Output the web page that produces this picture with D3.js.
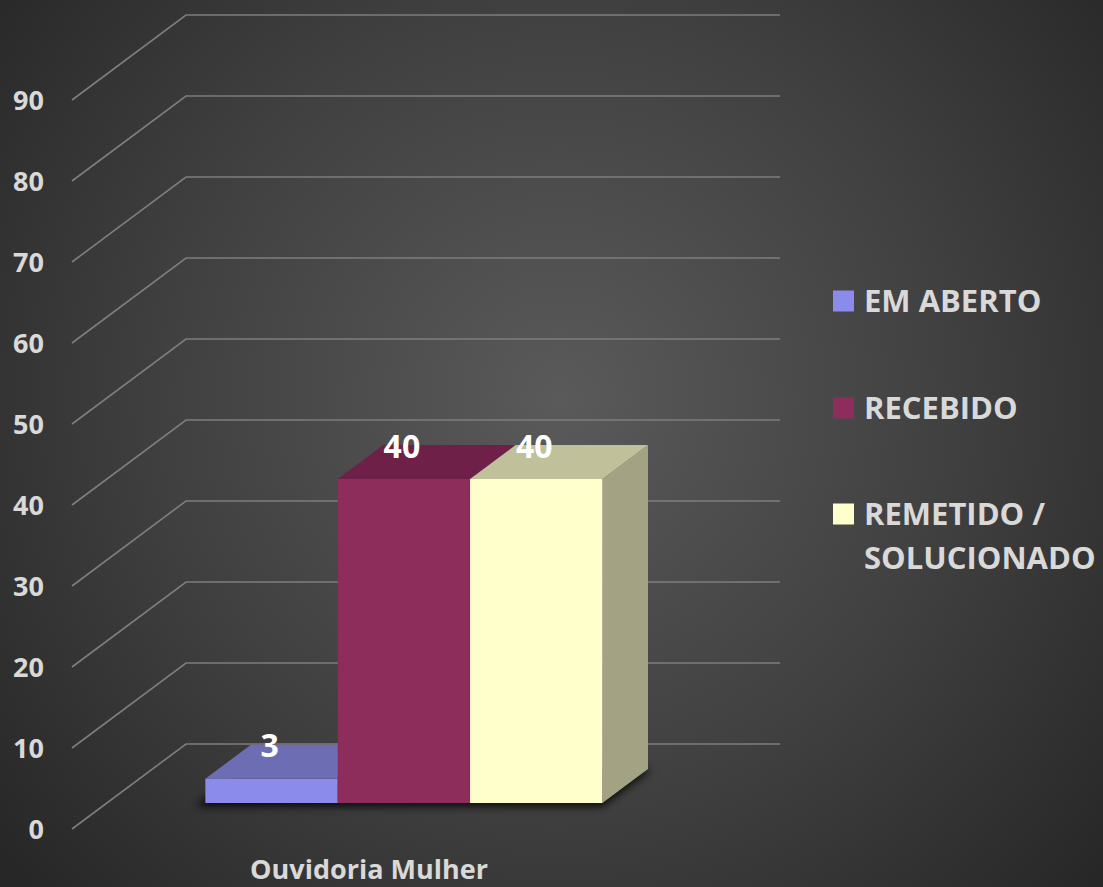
<!DOCTYPE html>
<html>
<head>
  <meta charset="utf-8">
  <title>Ouvidoria Mulher</title>
  <style>
    html, body { margin: 0; padding: 0; background: #333; }
    svg { display: block; }
    text { font-family: "Open Sans", sans-serif; font-weight: bold; }
  </style>
  <script src="https://d3js.org/d3.v7.min.js"></script>
</head>
<body>
  <div id="chart"></div>
  <script>
    // dados
    var categories = ["Ouvidoria Mulher"];
    var series = ["EM ABERTO", "RECEBIDO", "REMETIDO / SOLUCIONADO"];
    var values = [3, 40, 40];
    var yTicks = [0, 10, 20, 30, 40, 50, 60, 70, 80, 90];
    var colors = ["#8b8bec", "#8d2d5c", "#ffffcc"];
    var topColors = ["#6d6db3", "#6e2048", "#c0c09b"];
    var sideColors = ["#5b5b96", "#581a3a", "#a3a383"];

    var W = 1103, H = 887;
    var svg = d3.select("#chart").append("svg")
        .attr("width", W)
        .attr("height", H);

    var defs = svg.append("defs");
    var grad = defs.append("radialGradient")
        .attr("id", "bg")
        .attr("gradientUnits", "userSpaceOnUse")
        .attr("cx", 560).attr("cy", 400).attr("r", 720);
    grad.append("stop").attr("offset", "0").attr("stop-color", "#5a5a5a");
    grad.append("stop").attr("offset", "0.55").attr("stop-color", "#404040");
    grad.append("stop").attr("offset", "1").attr("stop-color", "#272727");

    defs.append("filter").attr("id", "blur")
        .attr("x", "-20%").attr("y", "-50%").attr("width", "140%").attr("height", "200%")
      .append("feGaussianBlur").attr("stdDeviation", 4);

    svg.append("rect").attr("width", W).attr("height", H).attr("fill", "url(#bg)");

    // plano frontal + profundidade
    var DX = 114, DY = -85;
    var x0 = 72, x1 = 666;
    var y = d3.scaleLinear().domain([0, 90]).range([829, 100]);
    var d0 = 0.306, d1 = 0.706;   // profundidade das barras

    function P(x, v, d) { return [x + d * DX, y(v) + d * DY]; }

    var xScale = d3.scaleBand().domain(categories).range([x0, x1]).paddingOuter(0.248).paddingInner(0);
    var xSub = d3.scaleBand().domain(series).range([0, xScale.bandwidth()]);

    // grade
    var grid = svg.append("g");
    yTicks.forEach(function(t) {
      var a = P(x0, t, 0), b = P(x0, t, 1), c = P(x1, t, 1);
      grid.append("path")
        .attr("d", "M" + a + "L" + b + "L" + c)
        .attr("fill", "none")
        .attr("stroke", "#7e7e7e")
        .attr("stroke-width", 1.6);
    });

    // eixo y
    svg.append("g").selectAll("text")
      .data(yTicks)
      .join("text")
        .attr("x", 44)
        .attr("y", function(d) { return y(d); })
        .attr("dy", "0.36em")
        .attr("text-anchor", "end")
        .attr("fill", "#d9d9d9")
        .attr("font-size", 27)
        .text(function(d) { return d; });

    // sombra
    categories.forEach(function(c) {
      var xa = xScale(c), xb = xScale(c) + xScale.bandwidth();
      var p = [P(xa - 6, 0, d0 - 0.04), P(xb + 4, 0, d0 - 0.04), P(xb + 4, 0, d1), P(xa - 6, 0, d1)];
      svg.append("path")
        .attr("d", "M" + p.join("L") + "Z")
        .attr("fill", "#000")
        .attr("opacity", 0.85)
        .attr("filter", "url(#blur)");
    });

    // barras
    var bars = svg.append("g");
    series.forEach(function(s, i) {
      var v = values[i];
      var xa = xScale(categories[0]) + xSub(s), xb = xa + xSub.bandwidth();
      var g = bars.append("g");
      var front = [P(xa, 0, d0), P(xb, 0, d0), P(xb, v, d0), P(xa, v, d0)];
      var top = [P(xa, v, d0), P(xb, v, d0), P(xb, v, d1), P(xa, v, d1)];
      var side = [P(xb, 0, d0), P(xb, 0, d1), P(xb, v, d1), P(xb, v, d0)];
      g.append("path").attr("d", "M" + side.join("L") + "Z").attr("fill", sideColors[i]);
      g.append("path").attr("d", "M" + top.join("L") + "Z").attr("fill", topColors[i]);
      g.append("path").attr("d", "M" + front.join("L") + "Z").attr("fill", colors[i]);
    });

    // rótulos de dados
    series.forEach(function(s, i) {
      var xa = xScale(categories[0]) + xSub(s);
      var pf = P(xa + xSub.bandwidth() / 2, values[i], d0);
      var pb = P(xa + xSub.bandwidth() / 2, values[i], d1);
      svg.append("text")
        .attr("x", pf[0] - 2)
        .attr("y", pb[1] + 1)
        .attr("dy", "0.36em")
        .attr("text-anchor", "middle")
        .attr("fill", "#ffffff")
        .attr("font-size", 32)
        .text(values[i]);
    });

    // rótulo da categoria
    svg.append("g").selectAll("text")
      .data(categories)
      .join("text")
        .attr("x", function(d) { return xScale(d) + xScale.bandwidth() / 2; })
        .attr("y", 869)
        .attr("dy", "0.36em")
        .attr("text-anchor", "middle")
        .attr("fill", "#d9d9d9")
        .attr("font-size", 27)
        .text(function(d) { return d; });

    // legenda
    var legendY = [301, 408, 514];
    var legend = svg.append("g");
    series.forEach(function(s, i) {
      var g = legend.append("g").attr("transform", "translate(833," + legendY[i] + ")");
      g.append("rect").attr("x", 0).attr("y", -10.5).attr("width", 21).attr("height", 21).attr("fill", colors[i]);
      var lines = s === "REMETIDO / SOLUCIONADO" ? ["REMETIDO /", "SOLUCIONADO"] : [s];
      lines.forEach(function(l, j) {
        g.append("text")
          .attr("x", 31)
          .attr("y", j * 44)
          .attr("dy", "0.36em")
          .attr("fill", "#d9d9d9")
          .attr("font-size", 31)
          .text(l);
      });
    });
  </script>
</body>
</html>
